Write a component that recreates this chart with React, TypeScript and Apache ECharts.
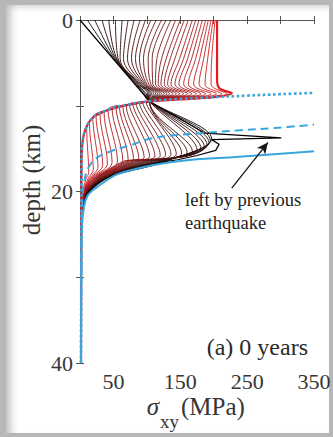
import React, { useEffect, useRef } from "react";
import * as echarts from "echarts";

// Axis tick labels that are printed (ticks themselves fall every 50 MPa / 10 km).
const xTickLabels = [50, 150, 250, 350];
const yTickLabels = [0, 20, 40];

// Earliest stress profile (black): [stress MPa, depth km].
const earliestProfile: [number, number][] = [
  [0, 0], [104, 9.5], [145, 11.3], [187, 13.2], [301, 13.75], [197, 13.95],
  [208, 14.5], [203, 15.2], [175, 15.8], [146, 16.3], [120, 16.6], [97, 16.9],
  [72, 17.3], [48, 18.0], [27, 19.1], [15, 19.9], [9, 20.5], [5, 21.5],
  [3, 22.7], [2.2, 25], [1.8, 30], [1.5, 40],
];

// Latest stress profile (red).
const latestProfile: [number, number][] = [
  [205, 0], [205, 4], [205, 7.0], [209, 8.0], [227, 8.55], [200, 9.0],
  [150, 9.27], [104, 9.5], [72, 9.9], [42, 10.5], [19, 11.4], [7.5, 12.9],
  [3, 14.9], [2.2, 18], [1.8, 30], [1.5, 40],
];

// Intermediate profiles, upper layer: stress at the surface, 4.5, 7.5, 8.6 and 9.15 km.
const surfaceStress = [11, 22, 33, 43, 53, 63, 72, 81, 90, 98, 106, 114, 122, 129, 136, 143, 150, 156, 162, 168, 173, 178, 183, 188, 192, 196, 199, 202];
const stressAt4p5 = [50.5, 52, 53.5, 55, 57, 60, 65, 71, 77, 83, 89, 95, 102, 108, 115, 122, 129, 135, 142, 149, 155, 161, 167, 173, 179, 185, 191, 197];
const stressAt7p5 = [83, 84.5, 86, 87.5, 89, 90.5, 92, 94, 96, 98, 100, 103, 106, 109, 113, 117, 121, 126, 131, 136, 142, 148, 155, 162, 170, 178, 187, 196];
const stressAt8p6 = [95, 97, 99, 101, 103, 105, 107, 110, 113, 116, 119, 122, 126, 130, 134, 139, 144, 149, 155, 161, 167, 174, 181, 188, 196, 204, 212, 220];
const stressAt9p15 = [99, 100, 100.5, 101, 102, 102.5, 103, 104, 105, 106, 107, 108, 110, 112, 114, 116, 118, 121, 124, 127, 130, 134, 138, 142, 147, 152, 157, 163];

// Every profile crosses here at the base of the upper layer.
const pinchPoint: [number, number] = [104, 9.5];

// Intermediate profiles, lower section: where each one leaves the upper edge,
// its right-most turning point, then its return along the lower bundle.
const exitStress = [null, null, null, null, null, null, null, null, null, null, 99, 94, 89, 84, 79, 74, 69, 64, 59, 54, 48, 42, 36, 30, 24, 19, 14, 10];
const exitDepth = [null, null, null, null, null, null, null, null, null, null, 9.56, 9.62, 9.69, 9.75, 9.81, 9.87, 9.96, 10.06, 10.16, 10.26, 10.38, 10.5, 10.73, 10.97, 11.2, 11.4, 12.05, 12.55];
const turnStress = [197, 195, 193, 190, 186, 181, 175, 168, 160, 152, 144, 136, 128, 120, 112, 104, 96, 88, 80, 72, 64, 56, 48, 41, 34, 27, 20, 13];
const turnDepth = [13.85, 14.05, 14.3, 14.55, 14.8, 15.0, 15.15, 15.3, 15.4, 15.5, 15.6, 15.65, 15.7, 15.78, 15.85, 15.92, 16.0, 16.08, 16.16, 16.25, 16.35, 16.45, 16.6, 16.75, 16.9, 17.1, 17.4, 17.8];
const stressAt16p5 = [128, 125, 122, 119, 116, 112, 108, 104, 100, 96, 92, 88, 84, 80, 76, 72, 68, 64, null, null, null, null, null, null, null, null, null, null];
const stressAt18p5 = [38, 37.5, 37, 36.5, 36, 35.5, 35, 34, 33, 32, 31, 30, 29, 28, 27, 26, 25, 24, 23, 22, 21, 20, 18.5, 17, 15.5, 14, 12, 9];
const stressAt20p5 = [8.7, 8.5, 8.3, 8.1, 7.9, 7.7, 7.5, 7.3, 7.1, 6.9, 6.7, 6.5, 6.3, 6.1, 5.9, 5.7, 5.5, 5.3, 5.1, 4.9, 4.7, 4.5, 4.3, 4.1, 3.9, 3.7, 3.5, 3.2];
const stressAt23 = [2.9, 2.9, 2.9, 2.9, 2.9, 2.8, 2.8, 2.8, 2.8, 2.8, 2.7, 2.7, 2.7, 2.7, 2.7, 2.6, 2.6, 2.6, 2.6, 2.6, 2.5, 2.5, 2.5, 2.5, 2.4, 2.4, 2.4, 2.4];
const deepTail: [number, number][] = [[1.8, 30], [1.5, 40]];

// Blue reference profiles.
const dottedProfile: [number, number][] = [
  [1.5, 40], [1.8, 30], [2.2, 20], [3, 14.9], [7.5, 12.9], [19, 11.4], [42, 10.45],
  [72, 9.85], [104, 9.45], [150, 9.2], [200, 9.0], [250, 8.82], [300, 8.65], [350, 8.5],
];
const dashedProfile: [number, number][] = [
  [1.5, 40], [1.8, 30], [2.5, 24], [4, 20.5], [6, 19.0], [12, 17.3], [25, 16.1],
  [46, 15.3], [76, 14.6], [104, 13.85], [140, 13.45], [182, 13.2], [240, 12.85],
  [291, 12.6], [350, 12.2],
];
const solidProfile: [number, number][] = [
  [1.5, 40], [1.8, 30], [2.2, 26.5], [3, 24], [6, 21.8], [12, 20.4], [27, 19.4],
  [50, 18.2], [72, 17.6], [110, 16.9], [154, 16.4], [228, 16.0], [300, 15.6], [350, 15.3],
];

// Arrow pointing at the stress spike.
const arrowFrom: [number, number] = [227, 19.6];
const arrowTo: [number, number] = [281, 14.3];

const SERIF = "'Liberation Serif', 'Times New Roman', serif";
const BLUE = "#38a6dd";
const INK = "#363636";

function profileColor(t: number): string {
  const stops = [
    [0, 0, 0],
    [118, 26, 24],
    [224, 30, 36],
  ];
  const s = t < 0.5 ? 0 : 1;
  const f = t < 0.5 ? t / 0.5 : (t - 0.5) / 0.5;
  const a = stops[s];
  const b = stops[s + 1];
  const c = a.map((v, k) => Math.round(v + (b[k] - v) * f));
  return `rgb(${c[0]},${c[1]},${c[2]})`;
}

function intermediateProfile(i: number): [number, number][] {
  const pts: [number, number][] = [
    [surfaceStress[i], 0],
    [stressAt4p5[i], 4.5],
    [stressAt7p5[i], 7.5],
    [stressAt8p6[i], 8.6],
    [stressAt9p15[i], 9.15],
    pinchPoint,
  ];
  const ex = exitStress[i];
  const ed = exitDepth[i];
  if (ex !== null && ed !== null) {
    latestProfile
      .filter((p) => p[1] > pinchPoint[1] && p[1] < ed)
      .forEach((p) => pts.push(p));
    pts.push([ex, ed]);
  }
  pts.push([turnStress[i], turnDepth[i]]);
  const r = stressAt16p5[i];
  if (r !== null) pts.push([r, 16.5]);
  pts.push([stressAt18p5[i], 18.5]);
  pts.push([stressAt20p5[i], 20.5]);
  pts.push([stressAt23[i], 23]);
  deepTail.forEach((p) => pts.push(p));
  return pts;
}

export default function App() {
  const ref = useRef<HTMLDivElement>(null);

  useEffect(() => {
    if (!ref.current) return;
    const chart = echarts.init(ref.current, null, { renderer: "svg" });
    const count = surfaceStress.length + 2;

    const series: any[] = [];
    series.push({
      type: "line",
      data: earliestProfile,
      smooth: false,
      symbol: "none",
      lineStyle: { color: profileColor(0), width: 1.2 },
      z: 2,
    });
    surfaceStress.forEach((_, i) => {
      series.push({
        type: "line",
        data: intermediateProfile(i),
        smooth: 0.35,
        symbol: "none",
        lineStyle: { color: profileColor((i + 1) / (count - 1)), width: 0.9 },
        z: 2,
      });
    });
    series.push({
      type: "line",
      data: latestProfile,
      smooth: 0.3,
      symbol: "none",
      lineStyle: { color: profileColor(1), width: 2.2 },
      z: 3,
    });
    series.push({
      type: "line",
      data: solidProfile,
      smooth: 0.4,
      symbol: "none",
      lineStyle: { color: BLUE, width: 2 },
      z: 4,
    });
    series.push({
      type: "line",
      data: dashedProfile,
      smooth: 0.4,
      symbol: "none",
      lineStyle: { color: BLUE, width: 2, type: [8, 5] },
      z: 4,
    });
    series.push({
      type: "line",
      data: dottedProfile,
      smooth: 0.4,
      symbol: "none",
      lineStyle: { color: BLUE, width: 2.6, type: [2.6, 2.6] },
      z: 4,
    });
    series.push({
      type: "line",
      data: [],
      symbol: "none",
      markLine: {
        silent: true,
        animation: false,
        label: { show: false },
        symbolSize: [8, 11],
        lineStyle: { color: "#151515", width: 1.3, type: "solid" },
        data: [[
          { coord: arrowFrom, symbol: "none" },
          { coord: arrowTo, symbol: "arrow" },
        ]],
      },
      z: 5,
    });

    const tickStyle = { show: true, inside: true, length: 4, lineStyle: { color: "#555", width: 1 } };
    const lineStyle = { show: true, lineStyle: { color: "#555", width: 1 } };
    const labelStyle = { fontFamily: SERIF, fontSize: 22, color: INK };

    chart.setOption({
      animation: false,
      grid: { left: 80, right: 19, top: 20, bottom: 74, show: false, containLabel: false, outerBoundsMode: "none" },
      xAxis: [
        {
          type: "value", min: 0, max: 350, interval: 50, position: "bottom",
          axisLine: lineStyle, axisTick: tickStyle, splitLine: { show: false },
          axisLabel: {
            ...labelStyle, margin: 7,
            formatter: (v: number) => (xTickLabels.includes(v) ? String(v) : ""),
          },
        },
        {
          type: "value", min: 0, max: 350, interval: 50, position: "top",
          axisLine: lineStyle, axisTick: tickStyle, splitLine: { show: false },
          axisLabel: { show: false },
        },
      ],
      yAxis: [
        {
          type: "value", min: 0, max: 40, interval: 10, inverse: true, position: "left",
          axisLine: lineStyle, axisTick: tickStyle, splitLine: { show: false },
          axisLabel: {
            ...labelStyle, margin: 7,
            formatter: (v: number) => (yTickLabels.includes(v) ? String(v) : ""),
          },
        },
        {
          type: "value", min: 0, max: 40, interval: 10, inverse: true, position: "right",
          axisLine: lineStyle, axisTick: tickStyle, splitLine: { show: false },
          axisLabel: { show: false },
        },
      ],
      series,
      graphic: [
        {
          type: "text", x: 31, y: 180, rotation: Math.PI / 2,
          style: { text: "depth (km)", font: `25px ${SERIF}`, fill: INK, align: "center", verticalAlign: "middle" },
        },
        {
          type: "text", x: 153, y: 406,
          style: { text: "σ", font: `italic 25px ${SERIF}`, fill: INK, align: "center", verticalAlign: "middle" },
        },
        {
          type: "text", x: 160, y: 421,
          style: { text: "xy", font: `19px ${SERIF}`, fill: INK, align: "left", verticalAlign: "middle" },
        },
        {
          type: "text", x: 181, y: 406,
          style: { text: "(MPa)", font: `25px ${SERIF}`, fill: INK, align: "left", verticalAlign: "middle" },
        },
        {
          type: "text", x: 185, y: 200,
          style: { text: "left by previous", font: `18.5px ${SERIF}`, fill: "#222", align: "left", verticalAlign: "middle" },
        },
        {
          type: "text", x: 185, y: 223,
          style: { text: "earthquake", font: `18.5px ${SERIF}`, fill: "#222", align: "left", verticalAlign: "middle" },
        },
        {
          type: "text", x: 308, y: 347,
          style: { text: "(a) 0 years", font: `24px ${SERIF}`, fill: "#2a2a2a", align: "right", verticalAlign: "middle" },
        },
      ],
    });

    return () => chart.dispose();
  }, []);

  return (
    <div style={{ position: "fixed", left: 0, top: 0, width: 333, height: 437, background: "#b7b7b7", overflow: "hidden" }}>
      <div
        style={{
          position: "absolute", left: 6, top: 5, width: 323, height: 428, background: "#fff",
          boxShadow: "inset 7px 3px 8px -3px rgba(0,0,0,0.28)",
        }}
      />
      <div ref={ref} style={{ position: "absolute", left: 0, top: 0, width: 333, height: 437 }} />
    </div>
  );
}
